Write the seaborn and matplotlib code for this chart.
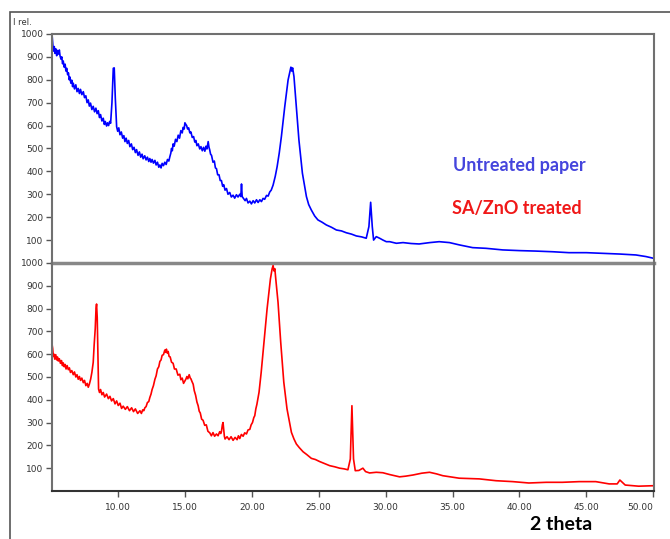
import matplotlib
matplotlib.use("Agg")
import matplotlib.pyplot as plt
import seaborn as sns
import pandas as pd
from matplotlib.patches import Rectangle

# ==========================================
# DATA (2theta, I rel.)
# ==========================================
untreated_points = [
    (5.07, 1000), (5.12, 960), (5.17, 925), (5.24, 945), (5.30, 915), (5.36, 935),
    (5.42, 905), (5.49, 928), (5.55, 912), (5.62, 930), (5.67, 905), (5.74, 890),
    (5.80, 900), (5.86, 870), (5.91, 882), (5.98, 855), (6.05, 868), (6.11, 838),
    (6.17, 850), (6.24, 822), (6.30, 830), (6.36, 800), (6.41, 812), (6.48, 785),
    (6.55, 798), (6.61, 770), (6.66, 785), (6.75, 760), (6.85, 778), (6.94, 748),
    (7.03, 762), (7.12, 740), (7.20, 758), (7.30, 735), (7.41, 748), (7.50, 722),
    (7.60, 730), (7.69, 700), (7.78, 712), (7.86, 685), (7.95, 698), (8.05, 670),
    (8.15, 684), (8.25, 660), (8.35, 676), (8.44, 652), (8.53, 665), (8.62, 635),
    (8.70, 648), (8.80, 620), (8.90, 632), (8.98, 605), (9.05, 618), (9.15, 598),
    (9.22, 612), (9.30, 600), (9.38, 618), (9.45, 610), (9.55, 700), (9.65, 850),
    (9.72, 852), (9.80, 720), (9.90, 595), (9.98, 575), (10.06, 590), (10.15, 560),
    (10.25, 572), (10.35, 545), (10.44, 556), (10.52, 530), (10.61, 545), (10.70, 522),
    (10.80, 535), (10.89, 508), (11.00, 520), (11.10, 495), (11.20, 505), (11.30, 482),
    (11.39, 495), (11.50, 470), (11.60, 485), (11.70, 462), (11.80, 475), (11.88, 455),
    (12.00, 468), (12.10, 450), (12.20, 462), (12.30, 443), (12.38, 456), (12.47, 440),
    (12.55, 452), (12.65, 436), (12.76, 448), (12.85, 428), (12.95, 440), (13.05, 418),
    (13.13, 428), (13.22, 415), (13.30, 435), (13.40, 425), (13.50, 440), (13.60, 430),
    (13.70, 452), (13.80, 445), (13.88, 465), (13.95, 480), (14.00, 500), (14.06, 490),
    (14.12, 520), (14.20, 510), (14.30, 540), (14.40, 530), (14.50, 558), (14.60, 545),
    (14.70, 578), (14.80, 568), (14.87, 592), (14.95, 585), (15.00, 612), (15.07, 605),
    (15.13, 600), (15.20, 585), (15.28, 590), (15.37, 568), (15.45, 572), (15.55, 548),
    (15.65, 552), (15.74, 528), (15.82, 535), (15.90, 512), (16.00, 520), (16.11, 498),
    (16.20, 508), (16.30, 490), (16.40, 505), (16.49, 488), (16.58, 510), (16.65, 498),
    (16.74, 530), (16.80, 505), (16.85, 495), (16.92, 475), (16.99, 470), (17.10, 440),
    (17.20, 445), (17.28, 415), (17.36, 412), (17.45, 385), (17.55, 385), (17.64, 360),
    (17.73, 360), (17.82, 335), (17.90, 342), (18.00, 318), (18.11, 325), (18.22, 300),
    (18.35, 308), (18.47, 288), (18.60, 296), (18.72, 283), (18.85, 298), (18.97, 288),
    (19.10, 300), (19.18, 290), (19.23, 345), (19.28, 290), (19.40, 280), (19.50, 272),
    (19.60, 282), (19.72, 262), (19.85, 270), (19.97, 258), (20.10, 272), (20.22, 262),
    (20.35, 276), (20.47, 264), (20.60, 276), (20.72, 268), (20.84, 282), (20.96, 278),
    (21.10, 295), (21.22, 292), (21.34, 310), (21.45, 318), (21.59, 340), (21.75, 378),
    (21.89, 420), (22.05, 480), (22.21, 552), (22.46, 682), (22.71, 799), (22.85, 835),
    (22.92, 855), (22.98, 838), (23.05, 852), (23.15, 814), (23.33, 682), (23.52, 537),
    (23.78, 392), (24.08, 290), (24.25, 255), (24.45, 231), (24.70, 205), (24.94, 188),
    (25.25, 178), (25.57, 166), (25.95, 156), (26.32, 144), (26.70, 140), (27.06, 132),
    (27.45, 126), (27.81, 118), (28.20, 114), (28.55, 108), (28.75, 159), (28.88, 265),
    (29.00, 159), (29.10, 100), (29.30, 115), (29.55, 108), (29.80, 100), (30.05, 93),
    (30.30, 93), (30.80, 86), (31.30, 89), (31.90, 85), (32.50, 83), (33.30, 89),
    (34.00, 93), (34.77, 89), (35.50, 79), (36.50, 67), (37.50, 64), (38.75, 57),
    (40.00, 54), (41.20, 52), (42.50, 49), (43.70, 45), (45.00, 45), (46.20, 42),
    (47.50, 39), (48.70, 35), (49.45, 28), (49.95, 21), (50.05, 20),
]

treated_points = [
    (5.07, 645), (5.12, 625), (5.17, 590), (5.22, 600), (5.28, 578), (5.35, 598),
    (5.42, 575), (5.48, 588), (5.54, 570), (5.62, 580), (5.70, 560), (5.78, 572),
    (5.85, 550), (5.91, 562), (5.98, 545), (6.05, 555), (6.12, 535), (6.20, 550),
    (6.29, 532), (6.37, 540), (6.45, 520), (6.55, 528), (6.66, 510), (6.75, 522),
    (6.85, 500), (6.94, 510), (7.03, 490), (7.12, 502), (7.20, 485), (7.30, 495),
    (7.41, 475), (7.50, 485), (7.60, 462), (7.70, 472), (7.78, 455), (7.86, 468),
    (7.96, 491), (8.05, 520), (8.15, 564), (8.22, 640), (8.30, 711), (8.36, 800),
    (8.40, 820), (8.45, 760), (8.50, 610), (8.55, 447), (8.62, 432), (8.70, 445),
    (8.80, 422), (8.90, 432), (9.00, 412), (9.15, 425), (9.28, 405), (9.40, 415),
    (9.52, 395), (9.65, 405), (9.78, 382), (9.90, 395), (10.02, 375), (10.15, 385),
    (10.27, 362), (10.39, 372), (10.55, 358), (10.70, 370), (10.86, 352), (11.02, 365),
    (11.16, 348), (11.30, 360), (11.47, 340), (11.64, 352), (11.75, 340), (11.85, 356),
    (11.93, 352), (12.01, 365), (12.10, 370), (12.20, 388), (12.30, 392), (12.38, 410),
    (12.47, 425), (12.55, 445), (12.65, 462), (12.76, 490), (12.85, 505), (12.95, 535),
    (13.05, 545), (13.13, 568), (13.22, 575), (13.30, 595), (13.40, 598), (13.50, 618),
    (13.56, 608), (13.62, 622), (13.68, 605), (13.75, 612), (13.82, 590), (13.90, 588),
    (14.00, 565), (14.12, 560), (14.22, 535), (14.35, 535), (14.48, 508), (14.62, 512),
    (14.70, 488), (14.80, 495), (14.90, 472), (14.99, 482), (15.07, 490), (15.15, 502),
    (15.22, 492), (15.32, 510), (15.40, 495), (15.45, 492), (15.53, 480), (15.62, 468),
    (15.70, 440), (15.80, 420), (15.90, 390), (15.99, 374), (16.07, 350), (16.15, 342),
    (16.25, 315), (16.36, 310), (16.48, 288), (16.60, 290), (16.72, 262), (16.86, 255),
    (16.98, 242), (17.10, 256), (17.22, 240), (17.36, 250), (17.48, 242), (17.60, 260),
    (17.68, 252), (17.73, 260), (17.80, 290), (17.85, 300), (17.90, 270), (17.95, 240),
    (18.00, 228), (18.15, 238), (18.30, 225), (18.45, 238), (18.60, 222), (18.75, 235),
    (18.90, 225), (19.00, 242), (19.10, 230), (19.22, 248), (19.35, 240), (19.47, 255),
    (19.60, 250), (19.72, 268), (19.85, 270), (19.95, 290), (20.05, 300), (20.15, 322),
    (20.22, 330), (20.30, 360), (20.38, 380), (20.54, 433), (20.70, 520), (20.84, 608),
    (21.00, 710), (21.14, 798), (21.39, 930), (21.52, 975), (21.59, 988), (21.66, 965),
    (21.72, 975), (21.79, 930), (21.96, 827), (22.16, 652), (22.39, 477), (22.63, 360),
    (22.96, 257), (23.15, 228), (23.33, 206), (23.55, 190), (23.83, 172), (24.10, 160),
    (24.45, 143), (24.75, 138), (25.07, 129), (25.45, 120), (25.82, 111), (26.20, 106),
    (26.56, 100), (26.90, 97), (27.18, 93), (27.36, 140), (27.48, 374), (27.60, 140),
    (27.73, 89), (28.00, 90), (28.30, 100), (28.50, 85), (28.80, 79), (29.30, 82),
    (29.79, 80), (30.30, 72), (31.04, 62), (31.50, 65), (32.04, 70), (32.70, 78),
    (33.28, 82), (33.80, 75), (34.27, 67), (35.50, 56), (37.00, 53), (38.25, 45),
    (39.50, 41), (40.70, 35), (42.00, 38), (43.20, 38), (44.47, 41), (45.70, 41),
    (46.70, 31), (47.30, 31), (47.50, 48), (47.90, 26), (48.90, 21), (49.95, 23),
    (50.05, 22),
]

y_ticks = [100, 200, 300, 400, 500, 600, 700, 800, 900, 1000]
x_ticks = [10, 15, 20, 25, 30, 35, 40, 45, 50]

untreated_df = pd.DataFrame(untreated_points, columns=["two_theta", "irel"])
treated_df = pd.DataFrame(treated_points, columns=["two_theta", "irel"])

# ==========================================
# FIGURE
# ==========================================
sns.set_style("white")
plt.rcParams["font.family"] = ["DejaVu Sans"]

fig = plt.figure(figsize=(6.7, 5.39), dpi=100)
ax_top = fig.add_axes([0.0776, 0.5121, 0.8985, 0.4249])
ax_bot = fig.add_axes([0.0776, 0.0891, 0.8985, 0.4230])

# outer frame of the original software export
fig.patches.append(Rectangle((0.0155, -0.02), 1.02, 0.998, transform=fig.transFigure,
                             fill=False, edgecolor="#555555", linewidth=1.2))

sns.lineplot(data=untreated_df, x="two_theta", y="irel", ax=ax_top,
             color="#0000ff", linewidth=1.2, sort=False)
sns.lineplot(data=treated_df, x="two_theta", y="irel", ax=ax_bot,
             color="#ff0000", linewidth=1.2, sort=False)

for ax in (ax_top, ax_bot):
    ax.patch.set_alpha(0)
    ax.set_xlim(5.07, 50.05)
    ax.set_ylim(0, 1000)
    ax.set_yticks(y_ticks)
    ax.set_yticklabels([str(v) for v in y_ticks])
    ax.set_xlabel("")
    ax.set_ylabel("")
    ax.tick_params(axis="y", direction="out", length=4, width=1, color="#555555",
                   labelsize=6.5, labelcolor="#333333", pad=2, left=True)
    for side in ("top", "bottom", "left", "right"):
        ax.spines[side].set_visible(True)
        ax.spines[side].set_color("#707070")
        ax.spines[side].set_linewidth(1.5)

ax_top.set_xticks([])
ax_top.spines["bottom"].set_color("#888888")
ax_top.spines["bottom"].set_linewidth(2.5)
ax_top.spines["bottom"].set_zorder(5)
ax_bot.spines["top"].set_visible(False)
ax_bot.spines["bottom"].set_color("#333333")
ax_bot.set_xticks(x_ticks)
ax_bot.set_xticklabels([f"{v:.2f}" for v in x_ticks])
ax_bot.tick_params(axis="x", direction="out", length=4, width=1, color="#555555",
                   labelsize=6.5, labelcolor="#333333", pad=5, bottom=True)
ax_bot.get_xticklabels()[-1].set_horizontalalignment("right")

fig.text(0.020, 0.958, "I rel.", fontsize=6, color="#333333", ha="left", va="center")

ax_top.text(0.777, 0.425, "Untreated paper", transform=ax_top.transAxes,
            fontsize=13, fontweight="bold", color="#4545dd", ha="center", va="center",
            family=["Lato", "DejaVu Sans"])
ax_top.text(0.772, 0.237, "SA/ZnO treated", transform=ax_top.transAxes,
            fontsize=13, fontweight="bold", color="#f01818", ha="center", va="center",
            family=["Lato", "DejaVu Sans"])
fig.text(0.838, 0.026, "2 theta", fontsize=14, fontweight="bold", color="black",
         ha="center", va="center", family=["Lato", "DejaVu Sans"])

fig.savefig("out.png", dpi=100)
